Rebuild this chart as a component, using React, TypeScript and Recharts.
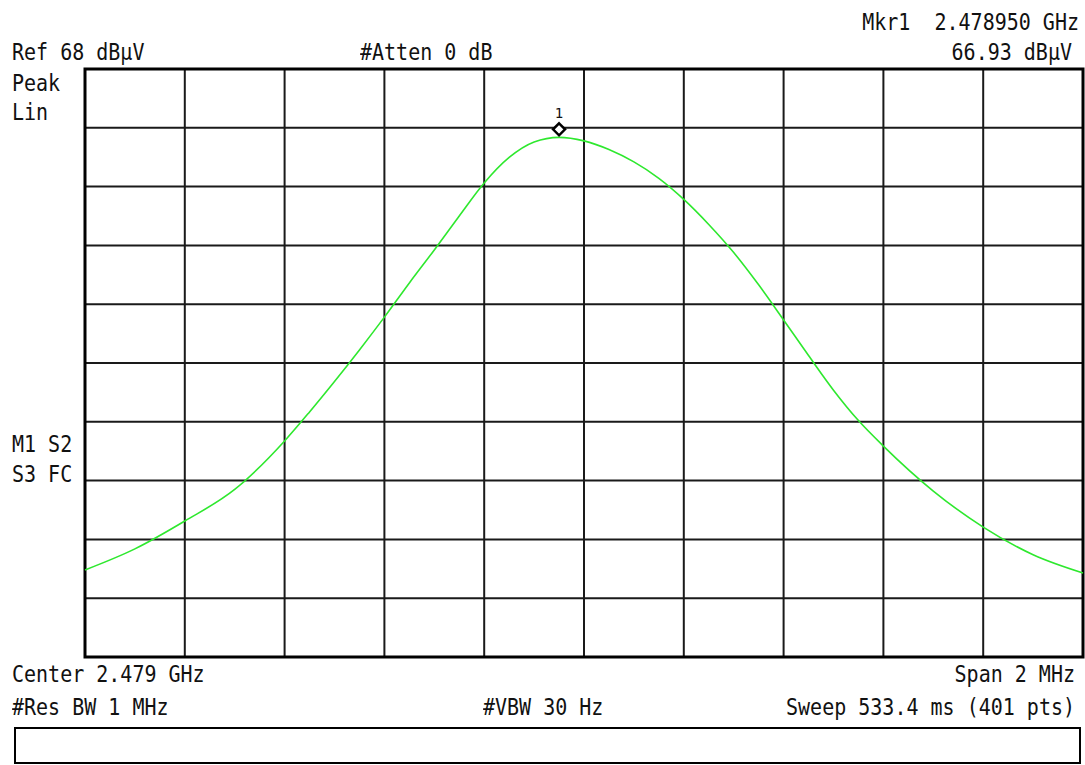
import { LineChart, Line, XAxis, YAxis, CartesianGrid, ReferenceArea, ReferenceDot } from 'recharts';

// Trace: frequency (GHz) and level (µV, linear scale)
const freqGHz = [
  2.478, 2.4781, 2.4782, 2.4783, 2.4784, 2.47845, 2.4785, 2.47855, 2.4786, 2.47865,
  2.4787, 2.47875, 2.4788, 2.47885, 2.4789, 2.47895, 2.479, 2.47905, 2.4791, 2.47915,
  2.4792, 2.47925, 2.4793, 2.47935, 2.4794, 2.47945, 2.4795, 2.47955, 2.4796, 2.4797,
  2.4798, 2.4799, 2.48,
];
const levelUV = [
  372, 462, 581, 716, 923, 1047, 1177, 1312, 1452, 1598,
  1739, 1884, 2025, 2134, 2200, 2220, 2205, 2168, 2115, 2045,
  1955, 1848, 1728, 1590, 1440, 1288, 1140, 1010, 901, 709,
  555, 437, 359,
];

const START_GHZ = 2.478;
const STOP_GHZ = 2.48;
const REF_UV = 2512; // 68 dBµV
const MARKER_GHZ = 2.47895;
const MARKER_UV = 2220; // 66.93 dBµV

const xTicks = Array.from({ length: 11 }, (_, i) => START_GHZ + ((STOP_GHZ - START_GHZ) * i) / 10);
const yTicks = Array.from({ length: 11 }, (_, i) => (REF_UV * i) / 10);

const data = freqGHz.map((f, i) => ({ f, v: levelUV[i] }));

const font = '"DejaVu Sans Mono", "Liberation Mono", monospace';

function Txt({ children, left, right, top }: { children: string; left?: number; right?: number; top: number }) {
  return (
    <div
      style={{
        position: 'absolute',
        left,
        right,
        top,
        fontFamily: font,
        fontSize: 20,
        lineHeight: '20px',
        color: '#111',
        whiteSpace: 'pre',
        transform: 'scaleY(1.15)',
        transformOrigin: 'top',
      }}
    >
      {children}
    </div>
  );
}

// marker diamond sitting on top of the trace, with its number above
const MarkerShape = (props: any) => {
  const { cx, cy } = props;
  const c = cy - 8;
  return (
    <g>
      <polygon
        points={`${cx},${c - 6} ${cx + 6},${c} ${cx},${c + 6} ${cx - 6},${c}`}
        fill="white"
        stroke="#000"
        strokeWidth={2.5}
      />
      <text x={cx} y={c - 11} textAnchor="middle" fontFamily={font} fontSize={14} fill="#111">
        1
      </text>
    </g>
  );
};

export default function App() {
  return (
    <div style={{ position: 'absolute', left: 0, top: 0, width: 1085, height: 765, background: '#fff', overflow: 'hidden' }}>
      <LineChart width={1085} height={765} data={data} margin={{ top: 69, right: 2, bottom: 108, left: 85 }}>
        <XAxis dataKey="f" type="number" domain={[START_GHZ, STOP_GHZ]} ticks={xTicks} hide />
        <YAxis type="number" domain={[0, REF_UV]} ticks={yTicks} hide />
        <CartesianGrid stroke="#1a1a1a" strokeWidth={2} />
        <ReferenceArea x1={START_GHZ} x2={STOP_GHZ} y1={0} y2={REF_UV} fill="none" stroke="#000" strokeWidth={3} ifOverflow="visible" />
        <Line
          type="monotone"
          dataKey="v"
          stroke="#2ee82e"
          strokeWidth={1.6}
          dot={false}
          isAnimationActive={false}
        />
        <ReferenceDot x={MARKER_GHZ} y={MARKER_UV} shape={MarkerShape} ifOverflow="visible" />
      </LineChart>

      <Txt right={6} top={10}>Mkr1  2.478950 GHz</Txt>
      <Txt left={12} top={40}>Ref 68 dBµV</Txt>
      <Txt left={360} top={40}>#Atten 0 dB</Txt>
      <Txt right={13} top={40}>66.93 dBµV</Txt>
      <Txt left={12} top={71}>Peak</Txt>
      <Txt left={12} top={100}>Lin</Txt>
      <Txt left={12} top={432}>M1 S2</Txt>
      <Txt left={12} top={462}>S3 FC</Txt>
      <Txt left={12} top={662}>Center 2.479 GHz</Txt>
      <Txt right={10} top={662}>Span 2 MHz</Txt>
      <Txt left={12} top={695}>#Res BW 1 MHz</Txt>
      <Txt left={483} top={695}>#VBW 30 Hz</Txt>
      <Txt right={10} top={695}>Sweep 533.4 ms (401 pts)</Txt>
      <div style={{ position: 'absolute', left: 14, top: 727, width: 1063, height: 33, border: '2.5px solid #000' }} />
    </div>
  );
}
